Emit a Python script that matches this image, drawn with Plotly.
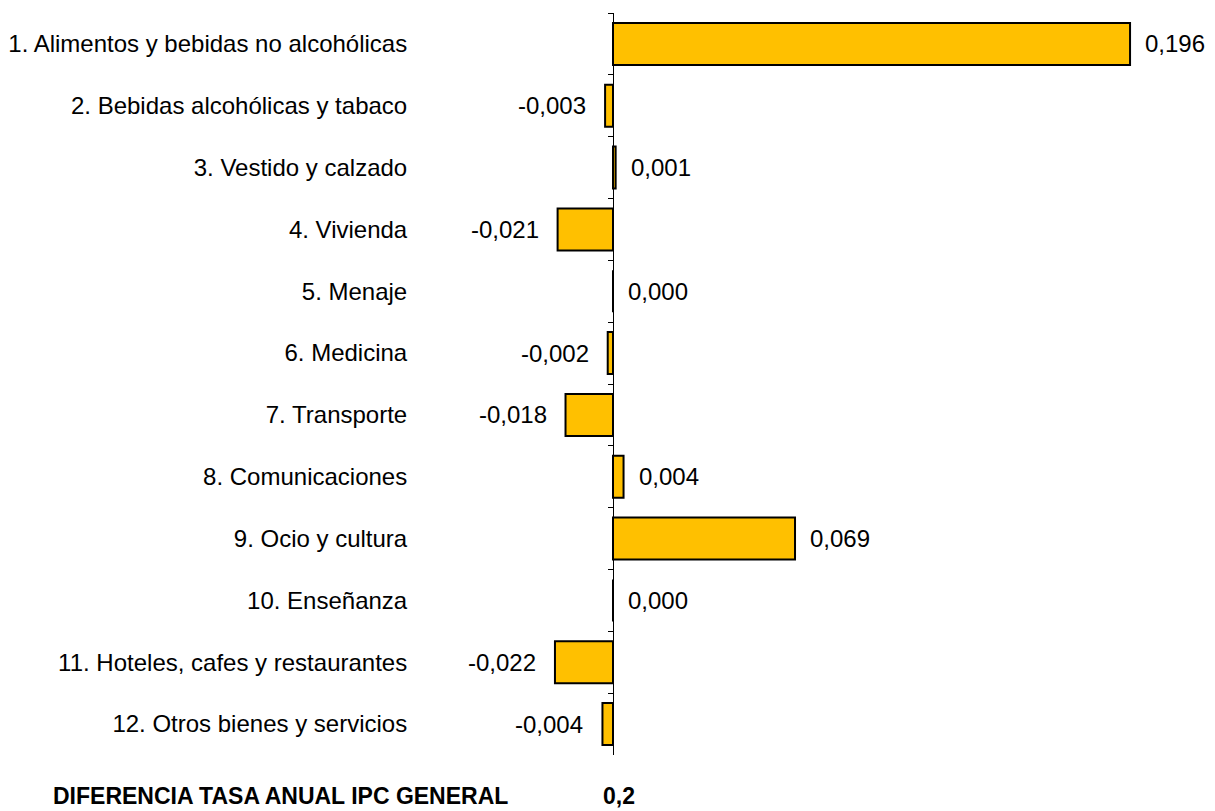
import plotly.graph_objects as go

categories = [
    "1. Alimentos y bebidas no alcohólicas",
    "2. Bebidas alcohólicas y tabaco",
    "3. Vestido y calzado",
    "4. Vivienda",
    "5. Menaje",
    "6. Medicina",
    "7. Transporte",
    "8. Comunicaciones",
    "9. Ocio y cultura",
    "10. Enseñanza",
    "11. Hoteles, cafes y restaurantes",
    "12. Otros bienes y servicios",
]
values = [0.196, -0.003, 0.001, -0.021, 0.000, -0.002, -0.018, 0.004, 0.069, 0.000, -0.022, -0.004]
footer_label = "DIFERENCIA TASA ANUAL IPC GENERAL"
footer_value = "0,2"

# page has an 8px body margin; figure is sized so it ends at the window edge
W, H = 1207, 803
FONT = "Liberation Sans, Arial, sans-serif"
S = 2638.0          # pixels per unit on x
X0 = 605.0          # figure pixel of zero

def fmt(v):
    return f"{v:.3f}".replace(".", ",")

fig = go.Figure()
fig.add_trace(go.Bar(
    x=values, y=categories, orientation="h", width=0.68,
    marker=dict(color="#FFC000", line=dict(color="black", width=2)),
    hoverinfo="x+y", showlegend=False,
))

annotations = []
for c, v in zip(categories, values):
    pos = v >= 0
    annotations.append(dict(
        x=v, y=c, xref="x", yref="y", text=fmt(v), showarrow=False,
        xanchor="left" if pos else "right", yanchor="middle",
        xshift=13 if pos else -17,
        font=dict(family=FONT, size=24, color="black"),
    ))

annotations.append(dict(
    x=43 / W, y=0, xref="paper", yref="paper", text=f"<b>{footer_label}</b>",
    showarrow=False, xanchor="left", yanchor="bottom",
    font=dict(family=FONT, size=23, color="black"),
))
annotations.append(dict(
    x=593 / W, y=0, xref="paper", yref="paper", text=f"<b>{footer_value}</b>",
    showarrow=False, xanchor="left", yanchor="bottom",
    font=dict(family=FONT, size=23, color="black"),
))

fig.update_layout(
    width=W, height=H,
    margin=dict(l=0, r=0, t=0, b=0),
    paper_bgcolor="white", plot_bgcolor="white",
    annotations=annotations,
    xaxis=dict(range=[-X0 / S, (W - X0) / S], domain=[0, 1], visible=False,
               showgrid=False, zeroline=False, fixedrange=True),
    yaxis=dict(type="category", categoryorder="array", categoryarray=categories,
               range=[11.5, -0.5], domain=[56 / H, 1 - 5 / H],
               anchor="free", position=X0 / W,
               showline=True, linecolor="black", linewidth=1,
               ticks="outside", tickson="boundaries", ticklen=5, tickcolor="black",
               ticklabelstandoff=201, automargin=False, showgrid=False, zeroline=False,
               tickfont=dict(family=FONT, size=24, color="black")),
    bargap=0.32,
)

fig.write_html("out.html")
